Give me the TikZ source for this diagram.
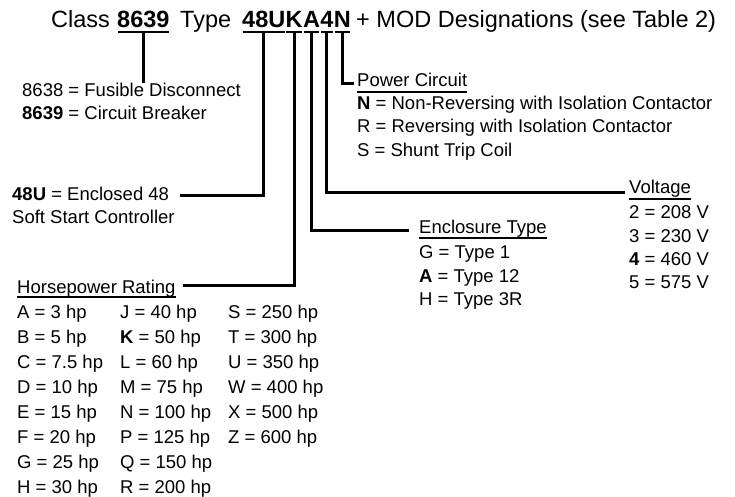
\documentclass[tikz,border=0pt]{standalone}
\usepackage{fontspec}
\setmainfont{Liberation Sans}
\begin{document}
\begin{tikzpicture}[x=1pt,y=-1pt,
  txt/.style={anchor=base west, inner sep=0pt, font=\fontsize{18.5}{22}\selectfont},
  ttl/.style={anchor=base west, inner sep=0pt, font=\fontsize{23.5}{28}\selectfont},
  conn/.style={line width=3pt},
  uline/.style={line width=2pt},
  tline/.style={line width=2.6pt}]
\useasboundingbox (0,0) rectangle (735,497);
% title
\node[ttl] (tclass) at (51,28) {Class};
\node[ttl] (t8639) at (117,28) {\textbf{8639}};
\node[ttl] (ttype) at (180,28) {Type};
\node[ttl] (c48u) at (242,28) {\textbf{48U}};
\node[ttl] (cK) at (c48u.base east) {\textbf{K}};
\node[ttl] (cA) at (cK.base east) {\textbf{A}};
\node[ttl] (c4) at (cA.base east) {\textbf{4}};
\node[ttl] (cN) at (c4.base east) {\textbf{N}};
\node[ttl] (trest) at (356,28) {+ MOD Designations (see Table 2)};
% title underlines
\foreach \n in {t8639,c48u,cK,cA,c4,cN}{
  \draw[tline] ([xshift=0.8pt,yshift=-4pt]\n.base west) -- ([xshift=-0.8pt,yshift=-4pt]\n.base east);
  \coordinate (u\n) at ([yshift=-4pt]\n.base);
}
% labels
\node[txt] (fuse) at (22,97) {8638 = Fusible Disconnect};
\node[txt] (cb) at (22,120) {\textbf{8639} = Circuit Breaker};
\node[txt] (enc48) at (12,200) {\textbf{48U} = Enclosed 48};
\node[txt] (soft) at (12,223) {Soft Start Controller};

\node[txt] (pc) at (357,87) {Power Circuit};
\node[txt] (pcn) at (357,110) {\textbf{N} = Non-Reversing with Isolation Contactor};
\node[txt] (pcr) at (357,133) {R = Reversing with Isolation Contactor};
\node[txt] (pcs) at (357,157) {S = Shunt Trip Coil};

\node[txt] (volt) at (629,193) {Voltage};
\node[txt] (v2) at (629,218) {2 = 208 V};
\node[txt] (v3) at (629,242) {3 = 230 V};
\node[txt] (v4) at (629,265) {\textbf{4} = 460 V};
\node[txt] (v5) at (629,288) {5 = 575 V};

\node[txt] (encl) at (419,233) {Enclosure Type};
\node[txt] (eg) at (419,258) {G = Type 1};
\node[txt] (ea) at (419,282) {\textbf{A} = Type 12};
\node[txt] (eh) at (419,305) {H = Type 3R};

\node[txt] (hp) at (17,293) {Horsepower Rating};
\foreach \t [count=\i] in {A = 3 hp,B = 5 hp,C = 7.5 hp,D = 10 hp,E = 15 hp,F = 20 hp,G = 25 hp,H = 30 hp}
  \node[txt] (hpa\i) at (17,318+25*\i-25) {\t};
\foreach \t [count=\i] in {J = 40 hp,\textbf{K} = 50 hp,L = 60 hp,M = 75 hp,N = 100 hp,P = 125 hp,Q = 150 hp,R = 200 hp}
  \node[txt] (hpb\i) at (120,318+25*\i-25) {\t};
\foreach \t [count=\i] in {S = 250 hp,T = 300 hp,U = 350 hp,W = 400 hp,X = 500 hp,Z = 600 hp}
  \node[txt] (hpc\i) at (228,318+25*\i-25) {\t};

% label underlines
\foreach \n/\d in {pc/5,volt/6,encl/5,hp/4}
  \draw[uline] ([yshift=-\d pt]\n.base west) -- ([yshift=-\d pt]\n.base east);

% connector ends
\coordinate (e48u) at (180,195);
\coordinate (eK) at (183,285);
\coordinate (eA) at (409,230);
\coordinate (e4) at (625,192);
\coordinate (eN) at (354,84);

\draw[conn] (ut8639) -- (ut8639 |- fuse.north);
\draw[conn] (uc48u) |- (e48u);
\draw[conn] (ucK) |- (eK);
\draw[conn] (ucA) |- (eA);
\draw[conn] (uc4) |- (e4);
\draw[conn] (ucN) |- (eN);
\end{tikzpicture}
\end{document}
